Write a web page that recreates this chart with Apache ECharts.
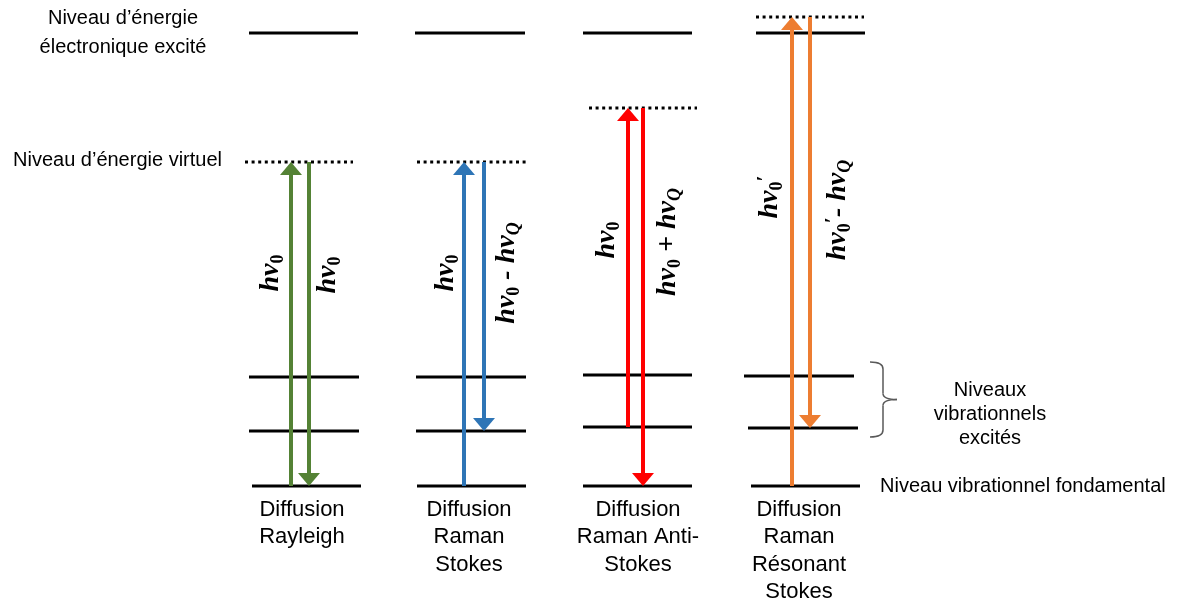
<!DOCTYPE html>
<html><head><meta charset="utf-8">
<script src="https://cdn.jsdelivr.net/npm/echarts@6/dist/echarts.min.js"></script>
<style>html,body{margin:0;padding:0;background:#fff;}#c{width:1181px;height:603px;}</style>
</head><body><div id="c"></div>
<script>
// ---------- data ----------
const columns = ['Diffusion\nRayleigh', 'Diffusion\nRaman\nStokes', 'Diffusion\nRaman Anti-\nStokes', 'Diffusion\nRaman\nRésonant\nStokes'];
const groundLevel = [0, 0, 0, 0];
const vibLevel1 = [55, 55, 59, 58];
const vibLevel2 = [109, 109, 111, 110];
const electronicLevel = [453, 453, 453, 453];
const virtualLevel = [324, 324, 378, 469];
const absorbedFrom = [0, 0, 59, 0];
const emittedTo = [0, 55, 0, 58];
const absorbedLabels = ['{m|hν}{s|0}', '{m|hν}{s|0}', '{m|hν}{s|0}', '{m|hν}{s|0}{p|′}'];
const emittedLabels = ['{m|hν}{s|0}', '{m|hν}{s|0}{m| - hν}{q|Q}', '{m|hν}{s|0}{m| + hν}{q|Q}', '{m|hν}{s|0}{p|′}{m|- hν}{q|Q}'];
const arrowColors = ['#548235', '#2E75B6', '#FF0000', '#ED7D31'];
const levelNames = ['Niveau d’énergie\nélectronique excité', 'Niveau d’énergie virtuel', 'Niveau vibrationnel fondamental', 'Niveaux\nvibrationnels\nexcités'];

// ---------- layout (x in px units of the hidden x axis, y in energy units) ----------
const L = {
  electronic: [[249, 358], [415, 525], [583, 692], [756, 865]],
  virtual: [[245, 353], [417, 526], [589, 697], [756, 864]],
  vib2: [[249, 359], [416, 526], [583, 692], [744, 854]],
  vib1: [[249, 359], [416, 526], [583, 692], [748, 858]],
  ground: [[252, 361], [417, 526], [583, 692], [751, 860]],
  arrowX: [[291, 309], [464, 484], [628, 643], [792, 810]],
  absLabelPos: [[271, 213], [446, 213], [607, 246], [770, 289]],
  emiLabelPos: [[328, 211], [507, 213], [668, 244], [838, 276]],
  colLabelX: [302, 469, 638, 799],
  colLabelY: -10,
  nameX: [123, 222, 880, 990],
  nameY: [453.5, 326, 0, 72],
  nameAlign: ['center', 'right', 'left', 'center']
};

const levelSets = [
  [electronicLevel, L.electronic, 0],
  [virtualLevel, L.virtual, 1],
  [vibLevel2, L.vib2, 0],
  [vibLevel1, L.vib1, 0],
  [groundLevel, L.ground, 0]
];
const levelData = [];
levelSets.forEach(([vals, xs, dotted]) => vals.forEach((v, i) => levelData.push([xs[i][0], xs[i][1], v, dotted])));

const arrowData = [];
columns.forEach((c, i) => {
  arrowData.push([L.arrowX[i][0], absorbedFrom[i], virtualLevel[i], i]);
  arrowData.push([L.arrowX[i][1], virtualLevel[i], emittedTo[i], i]);
});

const mathLabelData = [];
columns.forEach((c, i) => {
  mathLabelData.push([L.absLabelPos[i][0], L.absLabelPos[i][1], i, 0]);
  mathLabelData.push([L.emiLabelPos[i][0], L.emiLabelPos[i][1], i, 1]);
});

const colLabelData = columns.map((c, i) => [L.colLabelX[i], L.colLabelY, i]);
const nameData = levelNames.map((n, i) => [L.nameX[i], L.nameY[i], i]);

const sans = '"Liberation Sans", Arial, sans-serif';
const mathFont = '"Liberation Serif", "DejaVu Serif", serif';
const rich = {
  m: { fontSize: 28, fontFamily: mathFont, fontWeight: 'bold', fontStyle: 'italic', fill: '#000', color: '#000' },
  s: { fontSize: 18, fontFamily: mathFont, fontWeight: 'bold', fontStyle: 'normal', fill: '#000', color: '#000', padding: [14, 0, 0, 0] },
  q: { fontSize: 18, fontFamily: mathFont, fontWeight: 'bold', fontStyle: 'italic', fill: '#000', color: '#000', padding: [14, 0, 0, 0] },
  p: { fontSize: 22, fontFamily: mathFont, fontWeight: 'bold', fill: '#000', color: '#000', padding: [0, 0, 10, 0] }
};

const chart = echarts.init(document.getElementById('c'));
chart.setOption({
  animation: false,
  backgroundColor: '#fff',
  grid: { left: 0, right: 0, top: 0, bottom: 0 },
  xAxis: { type: 'value', min: 0, max: 1181, show: false },
  yAxis: { type: 'value', min: -117, max: 486, show: false },
  series: [
    {
      type: 'custom', name: 'levels', data: levelData, z: 2,
      renderItem(params, api) {
        const p1 = api.coord([api.value(0), api.value(2)]);
        const p2 = api.coord([api.value(1), api.value(2)]);
        const dotted = api.value(3) === 1;
        return {
          type: 'line',
          shape: { x1: p1[0], y1: p1[1], x2: p2[0], y2: p2[1] },
          style: { stroke: '#000', lineWidth: 3, lineDash: dotted ? [3, 3.6] : null }
        };
      }
    },
    {
      type: 'custom', name: 'arrows', data: arrowData, z: 3,
      renderItem(params, api) {
        const a = api.coord([api.value(0), api.value(1)]);
        const b = api.coord([api.value(0), api.value(2)]);
        const color = arrowColors[api.value(3)];
        const dir = b[1] < a[1] ? -1 : 1;
        const headH = 13, headW = 11;
        const baseY = b[1] - dir * headH;
        return {
          type: 'group',
          children: [
            { type: 'line', shape: { x1: a[0], y1: a[1], x2: b[0], y2: baseY }, style: { stroke: color, lineWidth: 4 } },
            { type: 'polygon', shape: { points: [[b[0], b[1]], [b[0] - headW, baseY], [b[0] + headW, baseY]] }, style: { fill: color } }
          ]
        };
      }
    },
    {
      type: 'custom', name: 'mathLabels', data: mathLabelData, z: 4,
      renderItem(params, api) {
        const p = api.coord([api.value(0), api.value(1)]);
        const i = api.value(2);
        const txt = api.value(3) === 0 ? absorbedLabels[i] : emittedLabels[i];
        return {
          type: 'text', x: p[0], y: p[1], rotation: Math.PI / 2,
          style: { text: txt, rich: rich, align: 'center', verticalAlign: 'middle', fill: '#000' }
        };
      }
    },
    {
      type: 'custom', name: 'columnLabels', data: colLabelData, z: 4,
      renderItem(params, api) {
        const p = api.coord([api.value(0), api.value(1)]);
        return {
          type: 'text', x: p[0], y: p[1],
          style: { text: columns[api.value(2)], fontSize: 22, fontFamily: sans, fill: '#000', align: 'center', verticalAlign: 'top', lineHeight: 27.5 }
        };
      }
    },
    {
      type: 'custom', name: 'levelNames', data: nameData, z: 4,
      renderItem(params, api) {
        const p = api.coord([api.value(0), api.value(1)]);
        const i = api.value(2);
        return {
          type: 'text', x: p[0], y: p[1],
          style: { text: levelNames[i], fontSize: 20, fontFamily: sans, fill: '#000', align: L.nameAlign[i], verticalAlign: 'middle', lineHeight: i === 0 ? 29 : 24 }
        };
      }
    },
    {
      type: 'custom', name: 'brace', data: [[870, vibLevel2[3], vibLevel1[3]]], z: 2,
      renderItem(params, api) {
        const top = api.coord([api.value(0), api.value(1)]);
        const bot = api.coord([api.value(0), api.value(2)]);
        const x0 = top[0], y0 = top[1] - 14, y1 = bot[1] + 9;
        const xm = x0 + 13, xt = x0 + 27, ym = (y0 + y1) / 2;
        const st = { stroke: '#595959', lineWidth: 1.5, fill: null };
        return {
          type: 'group',
          children: [
            { type: 'bezierCurve', shape: { x1: x0, y1: y0, cpx1: xm, cpy1: y0, x2: xm, y2: y0 + 7 }, style: st },
            { type: 'line', shape: { x1: xm, y1: y0 + 7, x2: xm, y2: ym - 6 }, style: st },
            { type: 'bezierCurve', shape: { x1: xm, y1: ym - 6, cpx1: xm, cpy1: ym, x2: xt, y2: ym }, style: st },
            { type: 'bezierCurve', shape: { x1: xt, y1: ym, cpx1: xm, cpy1: ym, x2: xm, y2: ym + 6 }, style: st },
            { type: 'line', shape: { x1: xm, y1: ym + 6, x2: xm, y2: y1 - 7 }, style: st },
            { type: 'bezierCurve', shape: { x1: xm, y1: y1 - 7, cpx1: xm, cpy1: y1, x2: x0, y2: y1 }, style: st }
          ]
        };
      }
    }
  ]
});
</script></body></html>
